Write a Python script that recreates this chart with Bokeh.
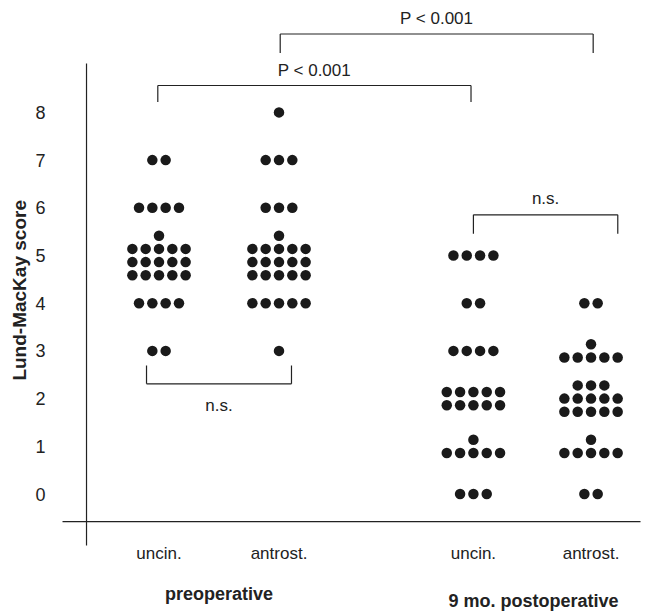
import math
from bokeh.plotting import figure
from bokeh.models import Range1d
from bokeh.core.properties import value
from bokeh.embed import file_html
from bokeh.resources import INLINE

# ---- data -------------------------------------------------------------
sites = ["uncin.", "antrost.", "uncin.", "antrost."]
periods = ["preoperative", "9 mo. postoperative"]
score_ticks = [0, 1, 2, 3, 4, 5, 6, 7, 8]

# number of patients at each Lund-MacKay score (index = score 0..8)
pre_uncin = [0, 0, 0, 2, 4, 16, 4, 2, 0]
pre_antrost = [0, 0, 0, 1, 5, 16, 3, 3, 1]
post_uncin = [3, 6, 10, 4, 2, 4, 0, 0, 0]
post_antrost = [2, 6, 13, 6, 2, 0, 0, 0, 0]
counts = [pre_uncin, pre_antrost, post_uncin, post_antrost]

# pairwise comparisons: (label, left group, right group)
comparisons = [
    ("P < 0.001", 1, 3),
    ("P < 0.001", 0, 2),
    ("n.s.", 2, 3),
    ("n.s.", 0, 1),
]

# ---- layout -------------------------------------------------------------
W, H = 657, 613
group_x = [1.0, 2.0, 3.62, 4.6]      # horizontal position of each column
period_x = [1.5, 4.12]
period_y = [-2.09, -2.25]
per_row = 5                          # dots per row in a stack
dx, dy = 0.111, 0.277                # spacing between neighbouring dots

FONT = "Liberation Sans"
INK = "#222222"

p = figure(width=W, height=H, output_backend="svg", toolbar_location=None,
           x_range=Range1d(-0.3208, 5.154), y_range=Range1d(-2.505, 10.346),
           x_axis_type=None, y_axis_type=None, min_border=0)
p.grid.visible = False
p.outline_line_color = None
p.background_fill_color = "white"

# stacked dots: full rows at the bottom, the remainder on top,
# the whole stack centred on its score
xs, ys = [], []
for gx, cnt in zip(group_x, counts):
    for score, n in zip(score_ticks, cnt):
        if n == 0:
            continue
        rows = math.ceil(n / per_row)
        left = n
        for r in range(rows):
            k = min(per_row, left)
            left -= k
            yy = score + (r - (rows - 1) / 2) * dy
            for j in range(k):
                xs.append(gx + (j - (k - 1) / 2) * dx)
                ys.append(yy)
p.scatter(xs, ys, size=10.5, color="#1a1a1a", line_color=None)

# axis lines
p.segment(x0=[0.396, 0.196], y0=[9.025, -0.577],
          x1=[0.396, 5.0125], y1=[-1.08, -0.577],
          line_color=INK, line_width=1.2)

# score labels
p.text(x=[0.0125] * len(score_ticks), y=score_ticks,
       text=[str(s) for s in score_ticks],
       text_align="center", text_baseline="middle",
       text_font=value(FONT), text_font_size="18px", text_color=INK)

p.text(x=[-0.165], y=[4.27], text=["Lund-MacKay score"], angle=math.pi / 2,
       text_align="center", text_baseline="middle",
       text_font=value(FONT), text_font_style="bold",
       text_font_size="19px", text_color=INK)

# column and period labels
p.text(x=group_x, y=[-1.25] * 4, text=sites,
       text_align="center", text_baseline="middle",
       text_font=value(FONT), text_font_size="17px", text_color=INK)
p.text(x=period_x, y=period_y, text=periods,
       text_align="center", text_baseline="middle",
       text_font=value(FONT), text_font_style="bold",
       text_font_size="18px", text_color=INK)

# comparison brackets
# (left x, right x, bar y, tip y, text y) in data units
bracket_geom = [
    (2.01, 4.618, 9.644, 9.245, 9.97),
    (0.99, 3.60, 8.564, 8.218, 8.88),
    (3.62, 4.823, 5.853, 5.455, 6.19),
    (0.896, 2.104, 2.31, 2.694, 1.86),
]
bx0, by0, bx1, by1 = [], [], [], []
tx, ty, tt = [], [], []
for (label, a, b), (l, r, yb, yt, yl) in zip(comparisons, bracket_geom):
    bx0 += [l, l, r]
    by0 += [yb, yb, yb]
    bx1 += [r, l, r]
    by1 += [yb, yt, yt]
    tx.append((l + r) / 2)
    ty.append(yl)
    tt.append(label)
p.segment(x0=bx0, y0=by0, x1=bx1, y1=by1, line_color=INK, line_width=1.2)
p.text(x=tx, y=ty, text=tt, text_align="center", text_baseline="middle",
       text_font=value(FONT), text_font_size="17px", text_color=INK)

open("out.html", "w").write(file_html(p, INLINE))
